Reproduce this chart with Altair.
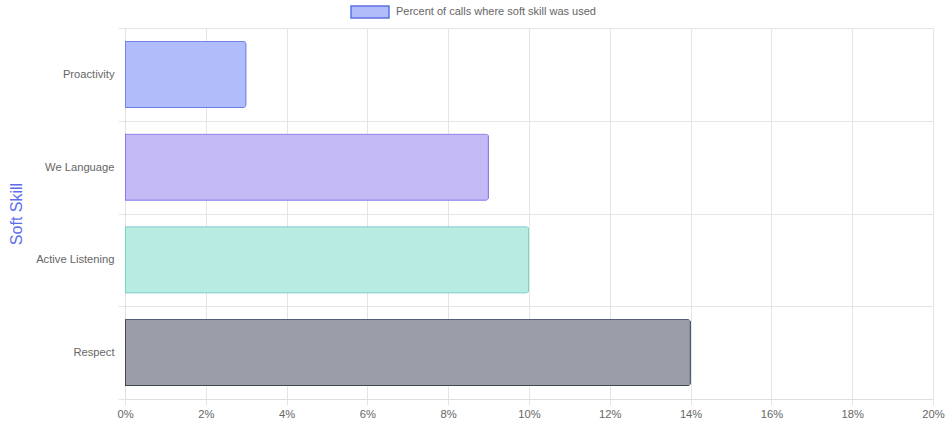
import altair as alt
import pandas as pd

skills = ["Proactivity", "We Language", "Active Listening", "Respect"]
percent = [3, 9, 10, 14]
fills = ["#b1bdfa", "#c4baf5", "#b8ebe2", "#9b9ea8"]
strokes = ["#5c72e8", "#7a62e6", "#62d2b4", "#262a35"]
series_name = "Percent of calls where soft skill was used"
x_ticks = [0, 2, 4, 6, 8, 10, 12, 14, 16, 18, 20]

df = pd.DataFrame({"skill": skills, "value": percent, "fill": fills, "stroke": strokes})
df["series"] = series_name

font = "Liberation Sans"

y_enc = alt.Y(
    "skill:N",
    sort=skills,
    scale=alt.Scale(paddingInner=0, paddingOuter=0),
    axis=alt.Axis(
        title="Soft Skill",
        titleColor="#5b6ef0",
        titleFontSize=16,
        titleFontWeight="normal",
        titleFont=font,
        titleX=-109,
        titleY=185.5,
        titleAngle=270,
        titleAlign="center",
        titleBaseline="middle",
        labelFont=font,
        labelFontSize=11.2,
        labelColor="#666666",
        labelPadding=4,
        grid=True,
        tickBand="extent",
        tickSize=7,
        tickColor="#e5e5e5",
        gridColor="#e5e5e5",
        domainColor="#e0e0e0",
    ),
)
x_enc = alt.X(
    "value:Q",
    scale=alt.Scale(domain=[0, 20], nice=False),
    axis=alt.Axis(
        title=None,
        values=x_ticks,
        labelExpr="datum.value + '%'",
        labelFont=font,
        labelFontSize=11.2,
        labelColor="#666666",
        labelPadding=3,
        tickSize=6,
        tickColor="#e5e5e5",
        gridColor="#e5e5e5",
        domainColor="#e0e0e0",
        labelFlush=False,
    ),
)

legend_cfg = dict(
    title=None, orient="none", legendX=225, legendY=-36,
    direction="horizontal",
    symbolType="M-1,-0.32L1,-0.32L1,0.32L-1,0.32Z",
    symbolSize=1444, symbolStrokeWidth=1.5,
    labelFont=font, labelFontSize=11, labelColor="#666666",
    labelOffset=6, labelLimit=400, padding=0,
)

legend_layer = alt.Chart(df).mark_bar(
    height={"band": 0.72}, strokeWidth=1.5, cornerRadiusEnd=3
).encode(
    x=x_enc,
    y=y_enc,
    fill=alt.Fill("series:N", scale=alt.Scale(range=["#b1bdfa"]),
                  legend=alt.Legend(**legend_cfg)),
    stroke=alt.Stroke("series:N", scale=alt.Scale(range=["#5c72e8"]),
                      legend=alt.Legend(**legend_cfg)),
)

bars = alt.Chart(df).mark_bar(
    height={"band": 0.72}, strokeWidth=1.5, cornerRadiusEnd=3
).encode(
    x=x_enc,
    y=y_enc,
    fill=alt.Fill("fill:N", scale=None),
    stroke=alt.Stroke("stroke:N", scale=None),
)

chart = alt.layer(legend_layer, bars).resolve_scale(
    fill="independent", stroke="independent"
).properties(
    width=808,
    height=371,
    padding={"left": 125, "top": 28, "right": 12, "bottom": 25},
    autosize=alt.AutoSizeParams(type="none"),
    background="white",
).configure_view(stroke=None)

chart.save("out.html", embed_options={"renderer": "svg", "actions": False})
